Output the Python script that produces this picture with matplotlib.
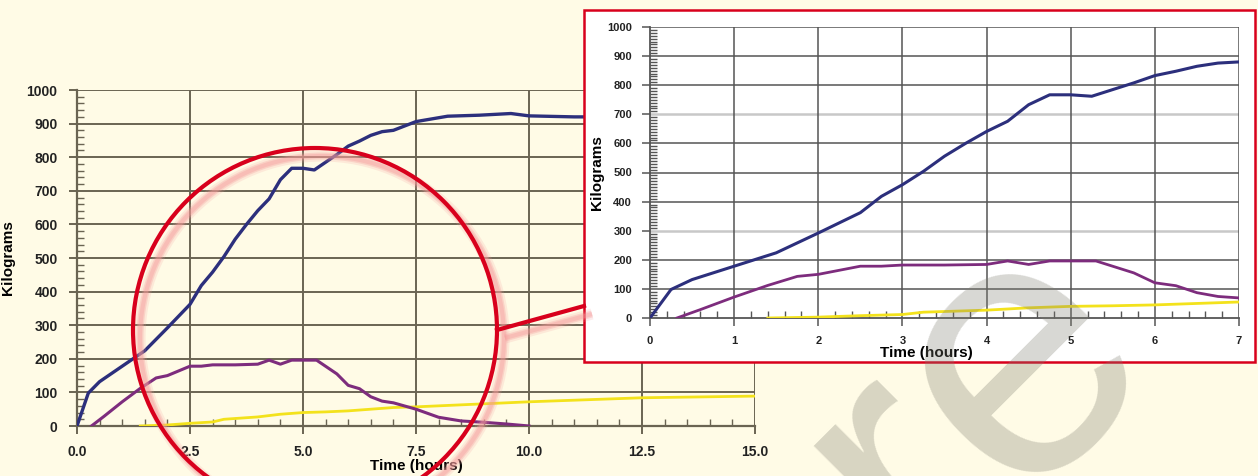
import matplotlib
matplotlib.use("Agg")
import matplotlib.pyplot as plt
from matplotlib.patches import Circle, Rectangle
from matplotlib.ticker import MultipleLocator, FormatStrFormatter

plt.rcParams["font.family"] = ["Liberation Sans", "DejaVu Sans"]

# series (time in hours, kilograms)
blue_t = [0, 0.25, 0.5, 1.0, 1.5, 2.0, 2.5, 2.75, 3.0, 3.25, 3.5, 3.75, 4.0, 4.25, 4.5,
          4.75, 5.0, 5.25, 5.5, 5.75, 6.0, 6.25, 6.5, 6.75, 7.0, 7.5, 8.2, 8.9, 9.6,
          10.0, 11.0, 12.5, 15.0]
blue_kg = [0, 98, 132, 178, 224, 292, 362, 418, 458, 504, 556, 600, 641, 676, 733,
           767, 767, 762, 785, 808, 833, 848, 865, 876, 880, 906, 922, 925, 930,
           923, 920, 920, 920]

purple_t = [0.32, 0.6, 1.0, 1.4, 1.75, 2.0, 2.5, 2.75, 3.0, 3.5, 4.0, 4.25, 4.5, 4.75,
            5.0, 5.3, 5.75, 6.0, 6.25, 6.5, 6.75, 7.0, 7.5, 8.0, 8.5, 9.0, 9.5, 10.0]
purple_kg = [0, 29, 72, 112, 143, 150, 178, 178, 182, 182, 184, 196, 184, 196,
             196, 196, 155, 121, 111, 87, 74, 69, 50, 26, 15, 11, 6, 0]

yellow_t = [1.4, 2.0, 2.5, 3.0, 3.25, 4.0, 4.5, 5.0, 5.5, 6.0, 6.5, 7.0, 7.5, 10.0, 12.5, 15.0]
yellow_kg = [0, 3, 8, 12, 20, 27, 35, 40, 42, 45, 50, 55, 57, 72, 84, 89]

BLUE = "#2c2f7c"
PURPLE = "#7d2c7d"
YELLOW = "#f3e21c"
CREAM = "#fffbe6"
RED = "#d8001c"
GLOW = "#f59a9a"

W, H = 1258, 476
fig = plt.figure(figsize=(W / 100, H / 100), dpi=100, facecolor=CREAM)


def px(x0, y0, x1, y1):
    # left, bottom, width, height in figure fraction from pixel box
    return [x0 / W, 1 - y1 / H, (x1 - x0) / W, (y1 - y0) / H]


def style_axes(ax, xmax, xmajor, xminor, yminor, grid_col, lsize, glw, light=()):
    ax.set_xlim(0, xmax)
    ax.set_ylim(0, 1000)
    ax.xaxis.set_major_locator(MultipleLocator(xmajor))
    ax.xaxis.set_minor_locator(MultipleLocator(xminor))
    ax.yaxis.set_major_locator(MultipleLocator(100))
    ax.yaxis.set_minor_locator(MultipleLocator(yminor))
    for s in ["top", "right"]:
        ax.spines[s].set_visible(False)
    for s in ["left", "bottom"]:
        ax.spines[s].set_color(grid_col)
        ax.spines[s].set_linewidth(glw + 0.2)
    for v in range(100, 1001, 100):
        if v in light:
            ax.axhline(v, color="#c8c8c8", lw=1.8, zorder=1)
        else:
            ax.axhline(v, color=grid_col, lw=glw, zorder=1)
    x = xmajor
    while x <= xmax + 1e-9:
        ax.axvline(x, color=grid_col, lw=glw, zorder=1)
        x += xmajor
    ax.tick_params(which="major", direction="out", length=6, width=glw, color=grid_col,
                   labelsize=lsize, pad=8)
    ax.tick_params(which="minor", direction="in", length=5, width=1.0, color=grid_col)
    for lab in ax.get_xticklabels() + ax.get_yticklabels():
        lab.set_fontweight("bold")
        lab.set_color("#222222")


# main chart
ax = fig.add_axes(px(77, 90, 755, 426))
ax.set_facecolor(CREAM)
ax.plot(yellow_t, yellow_kg, color=YELLOW, lw=2, zorder=3)
ax.plot(purple_t, purple_kg, color=PURPLE, lw=2.2, zorder=3)
ax.plot(blue_t, blue_kg, color=BLUE, lw=2.4, zorder=3)
style_axes(ax, 15, 2.5, 0.5, 20, "#6a6452", 10, 1.4)
ax.xaxis.set_major_formatter(FormatStrFormatter("%.1f"))
for lab in ax.get_xticklabels():
    lab.set_fontweight("bold")
ax.set_xlabel("Time (hours)", fontsize=11, fontweight="bold", labelpad=0)
ax.set_ylabel("Kilograms", fontsize=11, fontweight="bold", labelpad=8)

# overlay for magnifier circle, connector and inset frame
ov = fig.add_axes([0, 0, 1, 1], zorder=1)
ov.set_xlim(0, W)
ov.set_ylim(H, 0)
ov.axis("off")
ov.patch.set_alpha(0)
for lw, a in [(8, 0.18), (5, 0.3), (3, 0.35)]:
    ov.add_patch(Circle((322, 338), 182, fill=False, ec=GLOW, lw=lw, alpha=a))
    ov.plot([505, 592], [338, 314], color=GLOW, lw=lw, alpha=a, solid_capstyle="butt")
ov.add_patch(Circle((315, 330), 182, fill=False, ec=RED, lw=3))
ov.plot([497, 584], [330, 306], color=RED, lw=3)
ov.add_patch(Rectangle((584, 10), 671, 352, fc="white", ec=RED, lw=1.8))

# zoomed inset
ins = fig.add_axes(px(650, 27, 1239, 318), zorder=2)
ins.set_facecolor("white")
ins.plot(yellow_t, yellow_kg, color=YELLOW, lw=2, zorder=3)
ins.plot(purple_t, purple_kg, color=PURPLE, lw=2, zorder=3)
ins.plot(blue_t, blue_kg, color=BLUE, lw=2.2, zorder=3)
style_axes(ins, 7, 1, 0.2, 10, "#555555", 8, 1.1, light=(300, 700))
ins.tick_params(which="major", pad=7)
ins.set_xlabel("Time (hours)", fontsize=11, fontweight="bold", labelpad=-4)
ins.xaxis.set_label_coords(0.47, -0.095)
ins.set_ylabel("Kilograms", fontsize=11, fontweight="bold", labelpad=2)

# faint watermark
fig.text(1158 / W, 1 - 352 / H, "ure", rotation=45, rotation_mode="anchor",
         ha="right", va="baseline", fontsize=265, color="#7f7d70", alpha=0.3, zorder=10)

fig.savefig("out.png", dpi=100, facecolor=CREAM)
